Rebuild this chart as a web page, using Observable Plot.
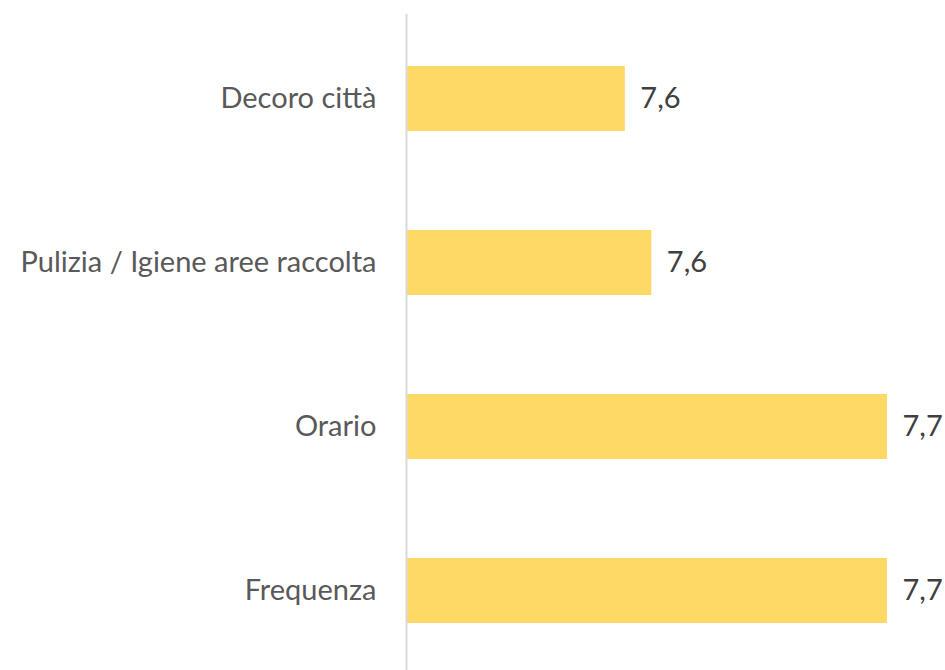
<!DOCTYPE html>
<html>
<head>
<meta charset="utf-8">
<script src="https://cdn.jsdelivr.net/npm/d3@7"></script>
<script src="https://cdn.jsdelivr.net/npm/@observablehq/plot@0.6"></script>
<style>
  html, body { margin: 0; padding: 0; background: #ffffff; }
</style>
</head>
<body>
<div id="chart"></div>
<script>
const categories = ["Decoro città", "Pulizia / Igiene aree raccolta", "Orario", "Frequenza"];
const values = [7.591, 7.602, 7.70, 7.70];
const xDomain = [7.5, 7.7];

const data = categories.map((c, i) => ({category: c, value: values[i]}));
const fmt = v => d3.format(".1f")(v).replace(".", ",");

const chart = Plot.plot({
  width: 945,
  height: 670,
  marginLeft: 406,
  marginRight: 58,
  marginTop: 14,
  marginBottom: 0,
  style: {fontFamily: "Lato, 'Open Sans', sans-serif", fontSize: "29px", color: "#595959", background: "#ffffff"},
  x: {domain: xDomain, axis: null},
  y: {domain: categories, paddingInner: 0.606, paddingOuter: 0.291, align: 0.52, label: null},
  marks: [
    Plot.barX(data, {y: "category", x1: xDomain[0], x2: "value", fill: "#FFD966"}),
    Plot.text(data, {y: "category", x: "value", text: d => fmt(d.value), textAnchor: "start", dx: 15, fill: "#404040", fontSize: 29}),
    Plot.ruleX([xDomain[0]], {stroke: "#d9d9d9", strokeWidth: 2}),
    Plot.axisY({tickSize: 0, tickPadding: 30, fontSize: 29, label: null})
  ]
});
document.getElementById("chart").appendChild(chart);
</script>
</body>
</html>
